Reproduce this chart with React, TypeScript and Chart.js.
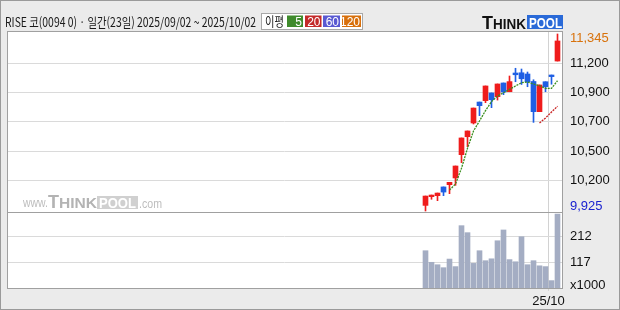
import React, { useEffect, useRef } from 'react';
import { Chart, registerables } from 'chart.js';

Chart.register(...registerables);

// ---------- data ----------
const dates = ['09/02', '09/03', '09/04', '09/05', '09/08', '09/09', '09/10', '09/11', '09/12', '09/15', '09/16', '09/17', '09/18', '09/19', '09/22', '09/23', '09/24', '09/25', '09/26', '09/29', '09/30', '10/01', '10/02'];
const openP = [9970, 10040, 10048, 10118, 10136, 10190, 10377, 10521, 10631, 10799, 10810, 10872, 10842, 10952, 10882, 11032, 11034, 11024, 10964, 10722, 10962, 11016, 11128];
const highP = [10045, 10053, 10069, 10118, 10155, 10286, 10511, 10567, 10751, 10799, 10928, 10872, 10944, 10952, 11008, 11070, 11064, 11040, 10978, 10936, 10962, 11016, 11345];
const lowP = [9925, 10019, 10008, 10048, 10064, 10131, 10313, 10441, 10623, 10690, 10794, 10754, 10815, 10858, 10882, 10962, 10940, 10922, 10636, 10722, 10882, 10942, 11128];
const closeP = [10045, 10053, 10069, 10077, 10155, 10286, 10511, 10567, 10751, 10770, 10928, 10818, 10944, 10880, 10963, 11018, 10986, 10962, 10722, 10936, 10922, 11003, 11289];
const ma5 = [null, null, null, null, 10093, 10142, 10268, 10428, 10567, 10647, 10730, 10802, 10848, 10874, 10901, 10928, 10954, 10960, 10944, 10930, 10909, 10909, 10970];
const ma20 = [null, null, null, null, null, null, null, null, null, null, null, null, null, null, null, null, null, null, null, 10631, 10671, 10719, 10765];
const volume = [160, 117, 108, 97, 129, 101, 253, 227, 113, 160, 123, 130, 197, 237, 127, 119, 212, 108, 123, 104, 101, 49, 296];

const priceTickValues = [11313, 11110, 10877, 10645, 10404, 10171, 9960];
const priceTickLabels = ['11,345', '11,200', '10,900', '10,700', '10,500', '10,200', '9,925'];
const volTickValues = [212, 117, 33];
const volTickLabels = ['212', '117', 'x1000'];
const monthTickValues = [20.5];
const monthTickLabels = ['25/10'];

const titleText = 'RISE 코(0094 0) · 일간(23일) 2025/09/02 ~ 2025/10/02';
const maLegendLabel = '이평';
const maLegendItems = ['5', '20', '60', '120'];
const maLegendColors = ['#3f8b2c', '#c42a2a', '#5a5ad2', '#d8700c'];

const RED = '#ef1c1c';
const BLUE = '#1f5fe4';
const TICK_FONT = { family: 'Liberation Sans', size: 13 };

function fitText(ctx: CanvasRenderingContext2D, text: string, x: number, y: number, w: number) {
  const m = ctx.measureText(text).width;
  ctx.save();
  ctx.translate(x, y);
  ctx.scale(w / m, 1);
  ctx.fillText(text, 0, 0);
  ctx.restore();
}

const decor = {
  id: 'decor',
  beforeDraw(chart: any) {
    const { ctx, chartArea: a, width, height } = chart;
    ctx.save();
    ctx.fillStyle = '#ebebeb';
    ctx.fillRect(0, 0, width, height);
    ctx.fillStyle = '#ffffff';
    ctx.fillRect(a.left, a.top, a.right - a.left, a.bottom - a.top);
    // watermark
    const by = 207;
    ctx.textBaseline = 'alphabetic';
    ctx.textAlign = 'left';
    ctx.fillStyle = '#bdbdbd';
    ctx.font = '12px "Liberation Sans"';
    fitText(ctx, 'www.', 23, by, 25);
    ctx.fillStyle = '#b3b3b3';
    ctx.font = 'bold 18px "Liberation Sans"';
    fitText(ctx, 'T', 48, by + 1, 11);
    ctx.font = 'bold 14px "Liberation Sans"';
    fitText(ctx, 'HINK', 59, by + 1, 38);
    ctx.fillStyle = '#d0d0d0';
    ctx.fillRect(97, 196, 41, 13);
    ctx.fillStyle = '#ffffff';
    ctx.font = 'bold 14px "Liberation Sans"';
    fitText(ctx, 'POOL', 99, by + 1, 37);
    ctx.fillStyle = '#bdbdbd';
    ctx.font = '12px "Liberation Sans"';
    fitText(ctx, '.com', 139, by + 1, 23);
    ctx.restore();
  },
  afterDraw(chart: any) {
    const { ctx, chartArea: a, width, height } = chart;
    const sep = chart.scales.y.bottom;
    ctx.save();
    // frames
    ctx.strokeStyle = '#a0a0a0';
    ctx.lineWidth = 1;
    ctx.strokeRect(a.left + 0.5, a.top + 0.5, a.right - a.left, a.bottom - a.top);
    ctx.beginPath();
    ctx.moveTo(a.left, Math.round(sep) + 0.5);
    ctx.lineTo(a.right + 1, Math.round(sep) + 0.5);
    ctx.stroke();
    ctx.strokeStyle = '#9a9a9a';
    ctx.strokeRect(0.5, 0.5, width - 1, height - 1);
    // title
    ctx.fillStyle = '#1a1a1a';
    ctx.textBaseline = 'alphabetic';
    ctx.textAlign = 'left';
    ctx.font = '13px "Noto Sans CJK KR"';
    fitText(ctx, titleText, 5, 26.5, 251);
    // legend box
    ctx.fillStyle = '#ffffff';
    ctx.fillRect(261, 13, 101, 16);
    ctx.strokeStyle = '#a8a8a8';
    ctx.strokeRect(261.5, 13.5, 101, 16);
    ctx.fillStyle = '#1a1a1a';
    ctx.font = '13px "Noto Sans CJK KR"';
    fitText(ctx, maLegendLabel, 265, 26, 19);
    const boxes = [[287, 16], [305, 16.5], [323, 17], [342, 19]];
    ctx.font = '12px "Liberation Sans"';
    ctx.textAlign = 'right';
    maLegendItems.forEach((t, i) => {
      const [x, w] = boxes[i];
      ctx.fillStyle = maLegendColors[i];
      ctx.fillRect(x, 15.5, w, 11.5);
      ctx.fillStyle = '#ffffff';
      ctx.fillText(t, x + w - 1, 25.5);
    });
    // logo
    ctx.textAlign = 'left';
    ctx.fillStyle = '#111111';
    ctx.font = 'bold 18px "Liberation Sans"';
    fitText(ctx, 'T', 482, 28.5, 11);
    ctx.font = 'bold 14px "Liberation Sans"';
    fitText(ctx, 'HINK', 493, 28.5, 33);
    ctx.fillStyle = '#2a6ad8';
    ctx.fillRect(527, 15, 36, 14);
    ctx.fillStyle = '#ffffff';
    ctx.font = 'bold 15px "Liberation Sans"';
    fitText(ctx, 'POOL', 529, 28, 33);
    ctx.restore();
  },
};

export default function App() {
  const ref = useRef<HTMLCanvasElement>(null);
  useEffect(() => {
    document.body.style.margin = '0';
    const canvas = ref.current!;
    const idx = dates.map((_, i) => i);
    const candleColors = idx.map((i) => (closeP[i] >= openP[i] ? RED : BLUE));
    const chart = new Chart(canvas, {
      type: 'bar',
      data: {
        datasets: [
          {
            type: 'line',
            label: 'MA5',
            data: idx.map((i) => ({ x: i, y: ma5[i] })),
            yAxisID: 'y',
            borderColor: '#3a8f1e',
            borderWidth: 1.3,
            borderDash: [2, 1],
            pointRadius: 0,
            fill: false,
            tension: 0,
            order: 0,
          } as any,
          {
            type: 'line',
            label: 'MA20',
            data: idx.map((i) => ({ x: i, y: ma20[i] })),
            yAxisID: 'y',
            borderColor: '#c82020',
            borderWidth: 1.3,
            borderDash: [2, 1],
            pointRadius: 0,
            fill: false,
            tension: 0,
            order: 0,
          } as any,
          {
            label: 'body',
            data: idx.map((i) => ({ x: i, y: [openP[i], closeP[i]] })),
            backgroundColor: candleColors,
            barThickness: 5,
            grouped: false,
            yAxisID: 'y',
            order: 1,
          } as any,
          {
            label: 'wick',
            data: idx.map((i) => ({ x: i, y: [lowP[i], highP[i]] })),
            backgroundColor: candleColors,
            barThickness: 1,
            grouped: false,
            yAxisID: 'y',
            order: 2,
          } as any,
          {
            label: 'volume',
            data: idx.map((i) => ({ x: i, y: volume[i] })),
            backgroundColor: '#a4adc3',
            barThickness: 5,
            grouped: false,
            yAxisID: 'yv',
            order: 3,
          } as any,
        ],
      },
      options: {
        responsive: false,
        animation: false,
        devicePixelRatio: 1,
        layout: { padding: { left: 7, top: 31, right: 0, bottom: 0 } },
        plugins: { legend: { display: false }, tooltip: { enabled: false } },
        scales: {
          x: {
            type: 'linear',
            min: -69.75,
            max: 22.75,
            offset: false,
            grid: { offset: false, color: '#d2d2d2', tickLength: 3, drawTicks: true },
            border: { display: false },
            afterBuildTicks: (s: any) => {
              s.ticks = monthTickValues.map((v) => ({ value: v }));
            },
            afterFit: (s: any) => {
              s.height = 22;
            },
            ticks: {
              callback: (_v: any, i: number) => monthTickLabels[i],
              color: '#111',
              font: TICK_FONT,
              padding: 3,
              maxRotation: 0,
              autoSkip: false,
            },
          },
          y: {
            type: 'linear',
            position: 'right',
            stack: 'main',
            stackWeight: 181,
            min: 9917,
            max: 11369,
            grid: {
              drawTicks: false,
              color: (c: any) => (c.index === 0 || c.index === priceTickValues.length - 1 ? 'rgba(0,0,0,0)' : '#dadada'),
            },
            border: { display: false },
            afterBuildTicks: (s: any) => {
              s.ticks = priceTickValues.map((v) => ({ value: v }));
            },
            afterFit: (s: any) => {
              s.width = 58;
            },
            ticks: {
              callback: (_v: any, i: number) => priceTickLabels[i],
              color: (c: any) => (c.index === 0 ? '#d8720c' : c.index === priceTickValues.length - 1 ? '#1a22d0' : '#111'),
              font: TICK_FONT,
              padding: 8,
              autoSkip: false,
            },
          },
          yv: {
            type: 'linear',
            position: 'right',
            stack: 'main',
            stackWeight: 76,
            min: 21.6,
            max: 303.7,
            grid: {
              drawTicks: false,
              color: (c: any) => (c.index === volTickValues.length - 1 ? 'rgba(0,0,0,0)' : '#dadada'),
            },
            border: { display: false },
            afterBuildTicks: (s: any) => {
              s.ticks = volTickValues.map((v) => ({ value: v }));
            },
            afterFit: (s: any) => {
              s.width = 58;
            },
            ticks: {
              callback: (_v: any, i: number) => volTickLabels[i],
              color: '#111',
              font: TICK_FONT,
              padding: 8,
              autoSkip: false,
            },
          },
        },
      } as any,
      plugins: [decor],
    });
    return () => chart.destroy();
  }, []);
  return <canvas ref={ref} width={620} height={310} style={{ display: 'block' }} />;
}
